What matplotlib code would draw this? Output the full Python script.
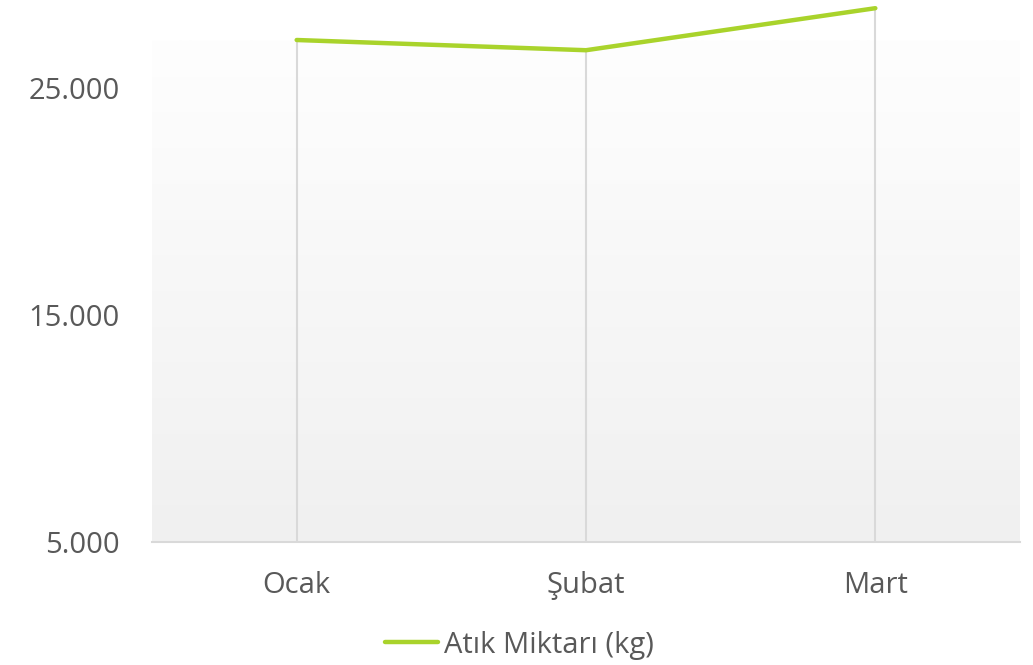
import numpy as np
import matplotlib.pyplot as plt
from matplotlib.colors import LinearSegmentedColormap

# veri
months = ['Ocak', 'Şubat', 'Mart']
waste_kg = [27100, 26650, 28500]
y_ticks = [5000, 15000, 25000]
series_name = 'Atık Miktarı (kg)'

plt.rcParams['font.family'] = ['Open Sans', 'DejaVu Sans']

fig = plt.figure(figsize=(10.33, 6.65), dpi=100)
ax = fig.add_axes([152 / 1033, 123 / 665, 868 / 1033, 502 / 665])

x = np.arange(len(months))
ax.set_xlim(-0.5, len(months) - 0.5)
ax.set_ylim(5000, 27100)

# arka plan gradyanı (üst beyaz -> alt açık gri)
cmap = LinearSegmentedColormap.from_list('bg', ['#f0f0f0', '#fefefe'])
grad = np.linspace(0, 1, 256).reshape(-1, 1)
ax.imshow(grad, cmap=cmap, origin='lower', aspect='auto',
          extent=[0, 1, 0, 1], transform=ax.transAxes, zorder=0)

# düşme çizgileri
ax.vlines(x, 5000, waste_kg, colors='#d9d9d9', linewidth=1.5, zorder=1, clip_on=False)

line, = ax.plot(x, waste_kg, color='#a9d32b', linewidth=3.2,
                solid_capstyle='round', solid_joinstyle='round',
                clip_on=False, zorder=3, label=series_name)

ax.set_xticks(x)
ax.set_xticklabels(months)
ax.set_yticks(y_ticks)
ax.set_yticklabels([f'{v:,}'.replace(',', '.') for v in y_ticks])
ax.tick_params(axis='both', length=0, labelsize=21, labelcolor='#595959')
ax.tick_params(axis='x', pad=21)
ax.tick_params(axis='y', pad=23)

for s in ['top', 'right', 'left']:
    ax.spines[s].set_visible(False)
ax.spines['bottom'].set_color('#d9d9d9')
ax.spines['bottom'].set_linewidth(1.5)

leg = fig.legend(handles=[line], loc='center', bbox_to_anchor=(0.503, 1 - 645 / 665),
                 frameon=False, fontsize=21, handlelength=1.8, handletextpad=0.2,
                 labelcolor='#595959')

plt.savefig('out.png', dpi=100)
